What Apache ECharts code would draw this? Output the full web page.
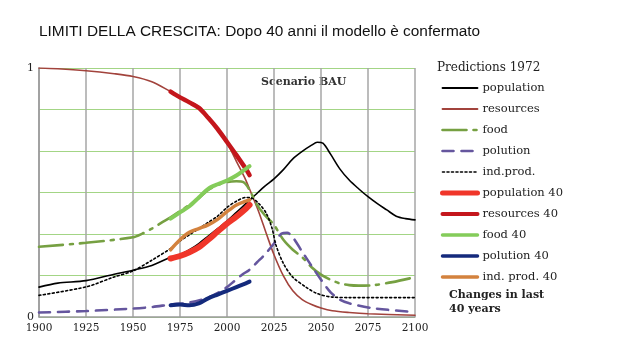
<!DOCTYPE html>
<html>
<head>
<meta charset="utf-8">
<style>
  html, body { margin: 0; padding: 0; background: #ffffff; }
  #chart { width: 620px; height: 343px; }
</style>
<script src="https://cdn.jsdelivr.net/npm/echarts@6/dist/echarts.min.js"></script>
</head>
<body>
<div id="chart"></div>
<script>
// Axis ticks
const yearTicks = [1900, 1925, 1950, 1975, 2000, 2025, 2050, 2075, 2100];

// World3 "business as usual" run from 1972 (normalised 0..1)
const populationYears = [1900, 1910, 1925, 1940, 1950, 1960, 1970, 1975, 1980, 1985, 1990, 1995, 2000, 2005, 2010, 2015, 2020, 2025, 2030, 2035, 2040, 2045, 2048, 2051, 2055, 2060, 2065, 2070, 2075, 2080, 2085, 2090, 2095, 2100];
const populationValues = [0.12, 0.136, 0.146, 0.172, 0.188, 0.207, 0.24, 0.25, 0.27, 0.295, 0.325, 0.355, 0.385, 0.42, 0.455, 0.49, 0.525, 0.555, 0.592, 0.635, 0.665, 0.69, 0.702, 0.698, 0.655, 0.595, 0.55, 0.515, 0.483, 0.455, 0.43, 0.405, 0.395, 0.39];

const resourcesYears = [1900, 1910, 1925, 1940, 1950, 1960, 1970, 1975, 1980, 1985, 1990, 1995, 2000, 2005, 2010, 2013, 2017, 2021, 2025, 2030, 2035, 2040, 2045, 2050, 2056, 2065, 2075, 2100];
const resourcesValues = [1.0, 0.997, 0.989, 0.977, 0.966, 0.945, 0.905, 0.884, 0.865, 0.845, 0.805, 0.755, 0.70, 0.625, 0.55, 0.495, 0.42, 0.333, 0.25, 0.165, 0.105, 0.07, 0.05, 0.036, 0.025, 0.018, 0.013, 0.007];

const foodYears = [1900, 1925, 1950, 1955, 1960, 1965, 1970, 1975, 1980, 1985, 1990, 1995, 2000, 2005, 2009, 2012, 2016, 2020, 2025, 2030, 2035, 2040, 2045, 2050, 2055, 2060, 2065, 2070, 2078, 2088, 2100];
const foodValues = [0.282, 0.298, 0.32, 0.335, 0.355, 0.378, 0.40, 0.425, 0.45, 0.477, 0.51, 0.53, 0.542, 0.545, 0.54, 0.51, 0.45, 0.41, 0.37, 0.31, 0.27, 0.24, 0.2, 0.17, 0.15, 0.135, 0.128, 0.126, 0.128, 0.14, 0.16];

const pollutionYears = [1900, 1925, 1950, 1960, 1970, 1980, 1990, 1996, 2000, 2004, 2008, 2012, 2016, 2020, 2025, 2029, 2032, 2035, 2040, 2045, 2050, 2055, 2060, 2065, 2078, 2100];
const pollutionValues = [0.018, 0.024, 0.034, 0.04, 0.05, 0.058, 0.078, 0.10, 0.12, 0.145, 0.17, 0.19, 0.22, 0.25, 0.295, 0.335, 0.338, 0.32, 0.262, 0.205, 0.15, 0.10, 0.07, 0.055, 0.035, 0.02];

const industryYears = [1900, 1925, 1940, 1950, 1960, 1970, 1975, 1980, 1985, 1990, 1995, 2000, 2005, 2010, 2013, 2017, 2021, 2024, 2026, 2030, 2035, 2042, 2048, 2056, 2065, 2100];
const industryValues = [0.087, 0.121, 0.161, 0.185, 0.228, 0.275, 0.305, 0.33, 0.355, 0.38, 0.405, 0.44, 0.465, 0.48, 0.478, 0.455, 0.415, 0.355, 0.29, 0.215, 0.16, 0.12, 0.094, 0.08, 0.078, 0.078];

// Observed changes over the last 40 years (1970-2012)
const years40 = [1970, 1975, 1980, 1985, 1990, 1995, 2000, 2005, 2010, 2012];
const population40 = [0.235, 0.245, 0.26, 0.28, 0.31, 0.343, 0.375, 0.403, 0.435, 0.45];
const resources40 = [0.905, 0.882, 0.862, 0.84, 0.80, 0.755, 0.703, 0.65, 0.595, 0.57];
const food40 = [0.395, 0.42, 0.445, 0.48, 0.515, 0.533, 0.548, 0.568, 0.595, 0.606];
const pollution40 = [0.047, 0.05, 0.047, 0.055, 0.075, 0.09, 0.105, 0.12, 0.135, 0.142];
const industry40 = [0.27, 0.31, 0.34, 0.355, 0.37, 0.392, 0.423, 0.45, 0.465, 0.47];

const pairs = (xs, ys) => xs.map((x, i) => [x, ys[i]]);

const serif = 'DejaVu Serif';

function lineSeries(name, xs, ys, color, width, type, z) {
  return {
    name: name,
    type: 'line',
    data: pairs(xs, ys),
    showSymbol: false,
    symbol: 'none',
    smooth: 0.3,
    z: z,
    lineStyle: { color: color, width: width, type: type, cap: 'round' },
    itemStyle: { color: color },
    emphasis: { disabled: true },
    animation: false
  };
}

// Legend entries: line weight of each key sample
const legendEntry = (name, width) => ({ name: name, lineStyle: { width: width } });

const chart = echarts.init(document.getElementById('chart'), null, { renderer: 'canvas' });

chart.setOption({
  animation: false,
  grid: { left: 39, right: 205, top: 68, bottom: 26, containLabel: false },
  xAxis: {
    type: 'value',
    min: yearTicks[0],
    max: yearTicks[yearTicks.length - 1],
    interval: 25,
    axisLine: { show: true, lineStyle: { color: '#9a9a9a', width: 1.5 } },
    axisTick: { show: false },
    splitLine: { show: true, lineStyle: { color: '#a6a6a6', width: 1.5 } },
    axisLabel: {
      margin: 6,
      color: '#222',
      fontFamily: serif,
      fontSize: 10.5,
      formatter: v => String(v)
    }
  },
  yAxis: {
    type: 'value',
    min: 0,
    max: 1,
    interval: 1 / 6,
    axisLine: { show: true, lineStyle: { color: '#9a9a9a', width: 1.5 } },
    axisTick: { show: false },
    splitLine: { show: true, lineStyle: { color: '#a3d585', width: 1 } },
    axisLabel: {
      margin: 5,
      color: '#222',
      fontFamily: serif,
      fontSize: 11,
      formatter: v => (Math.abs(v) < 1e-6 ? '0' : (Math.abs(v - 1) < 1e-6 ? '1' : ''))
    }
  },
  legend: {
    orient: 'vertical',
    left: 435,
    top: 76,
    itemWidth: 35,
    itemHeight: 14,
    itemGap: 7,
    selectedMode: false,
    itemStyle: { color: 'transparent', borderColor: 'transparent', borderWidth: 0, opacity: 0 },
    textStyle: { fontFamily: serif, fontSize: 11.5, color: '#222', lineHeight: 14 },
    data: [
      legendEntry('population', 1.8),
      legendEntry('resources', 1.8),
      legendEntry('food', 2.6),
      legendEntry('polution', 2.6),
      legendEntry('ind.prod.', 1.6),
      legendEntry('population 40', 5),
      legendEntry('resources 40', 4),
      legendEntry('food 40', 3.5),
      legendEntry('polution 40', 3.5),
      legendEntry('ind. prod. 40', 3.5)
    ]
  },
  graphic: [
    {
      type: 'text', left: 39, top: 24,
      style: { text: 'LIMITI DELLA CRESCITA: Dopo 40 anni il modello è confermato',
               font: '15.4px "Liberation Sans", Arial, sans-serif', fill: '#111' }
    },
    {
      type: 'text', left: 437, top: 62,
      style: { text: 'Predictions 1972', font: '12px "DejaVu Serif", serif', fill: '#222' }
    },
    {
      type: 'text', left: 261, top: 77,
      style: { text: 'Scenario BAU', font: 'bold 11px "DejaVu Serif", serif', fill: '#333' }
    },
    {
      type: 'text', left: 449, top: 288,
      style: { text: 'Changes in last\n40 years', font: 'bold 11px "DejaVu Serif", serif',
               fill: '#222', lineHeight: 14 }
    }
  ],
  series: [
    lineSeries('population', populationYears, populationValues, '#000000', 1.6, 'solid', 2),
    lineSeries('resources', resourcesYears, resourcesValues, '#a2433c', 1.6, 'solid', 2),
    lineSeries('food', foodYears, foodValues, '#76a042', 2.6, [24, 7, 3, 7], 2),
    lineSeries('polution', pollutionYears, pollutionValues, '#65569e', 2.6, [11, 8], 2),
    lineSeries('ind.prod.', industryYears, industryValues, '#000000', 1.6, [2, 2.5], 2),
    lineSeries('population 40', years40, population40, '#f0362a', 6, 'solid', 3),
    lineSeries('resources 40', years40, resources40, '#c4161c', 4.5, 'solid', 3),
    lineSeries('food 40', years40, food40, '#84cc5a', 4, 'solid', 3),
    lineSeries('polution 40', years40, pollution40, '#142a7c', 4, 'solid', 3),
    lineSeries('ind. prod. 40', years40, industry40, '#d3823e', 3.5, 'solid', 3)
  ]
});
</script>
</body>
</html>
